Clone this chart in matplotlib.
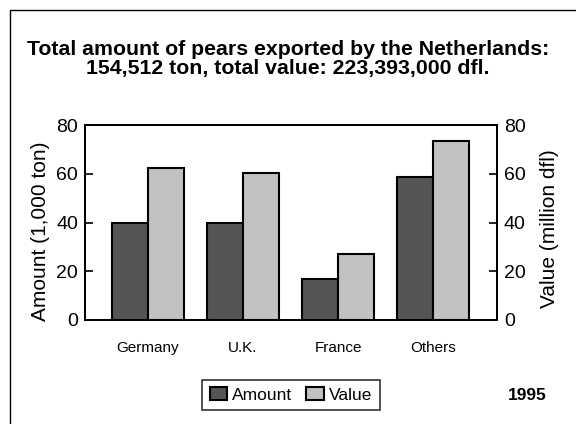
import matplotlib
matplotlib.use("Agg")
import matplotlib.pyplot as plt
import numpy as np
from matplotlib.patches import Rectangle

plt.rcParams['font.family'] = ['Liberation Sans', 'DejaVu Sans']

categories = ["Germany", "U.K.", "France", "Others"]
amount = [40, 40, 16.7, 58.5]      # 1,000 ton
value = [62.5, 60.5, 27, 73.5]     # million dfl
yticks = [0, 20, 40, 60, 80]
title = "Total amount of pears exported by the Netherlands:\n154,512 ton, total value: 223,393,000 dfl."

fig = plt.figure(figsize=(5.76, 4.24), dpi=100)
ax = fig.add_axes([85/576, 1 - 320/424, (497-85)/576, (320-125)/424])
ax2 = ax.twinx()

x = np.arange(len(categories))
w = 0.38
b1 = ax.bar(x - w/2, amount, w, color='#555555', edgecolor='black', linewidth=1.5, label='Amount')
b2 = ax2.bar(x + w/2, value, w, color='#c2c2c2', edgecolor='black', linewidth=1.5, label='Value')

for a in (ax, ax2):
    a.set_ylim(0, 80)
    a.set_yticks(yticks)
    a.tick_params(axis='y', direction='in', length=6, width=1.2, labelsize=14, pad=5)
    for s in a.spines.values():
        s.set_linewidth(1.4)
ax.set_xlim(-0.66, 3.67)
ax.set_xticks(x)
ax.set_xticklabels(categories, fontsize=11)
ax.tick_params(axis='x', length=0, pad=15)
ax.set_ylabel("Amount (1,000 ton)", fontsize=15)
ax2.set_ylabel("Value (million dfl)", fontsize=15)
ax.yaxis.set_label_coords(-0.085, 0.456)
ax2.yaxis.set_label_coords(1.104, 0.467)

fig.text(288/576, 1 - 59/424, title, ha='center', va='center', fontsize=15.3,
         fontweight='bold', linespacing=1.05)

leg = fig.legend(handles=[b1, b2], loc='center', bbox_to_anchor=(291/576, 1 - 395/424),
                 ncol=2, fontsize=12.5, frameon=True, fancybox=False, edgecolor='black',
                 handlelength=1.0, handleheight=0.7, handletextpad=0.3, columnspacing=0.8,
                 borderpad=0.45)
leg.get_frame().set_linewidth(1.2)

fig.text(527/576, 1 - 395/424, "1995", ha='center', va='center', fontsize=12.5, fontweight='bold')

fig.add_artist(Rectangle((10/576, -0.1), 1.2, 1 - 10/424 + 0.1, transform=fig.transFigure,
                         fill=False, edgecolor='black', linewidth=1.0))

fig.savefig("out.png", dpi=100)
